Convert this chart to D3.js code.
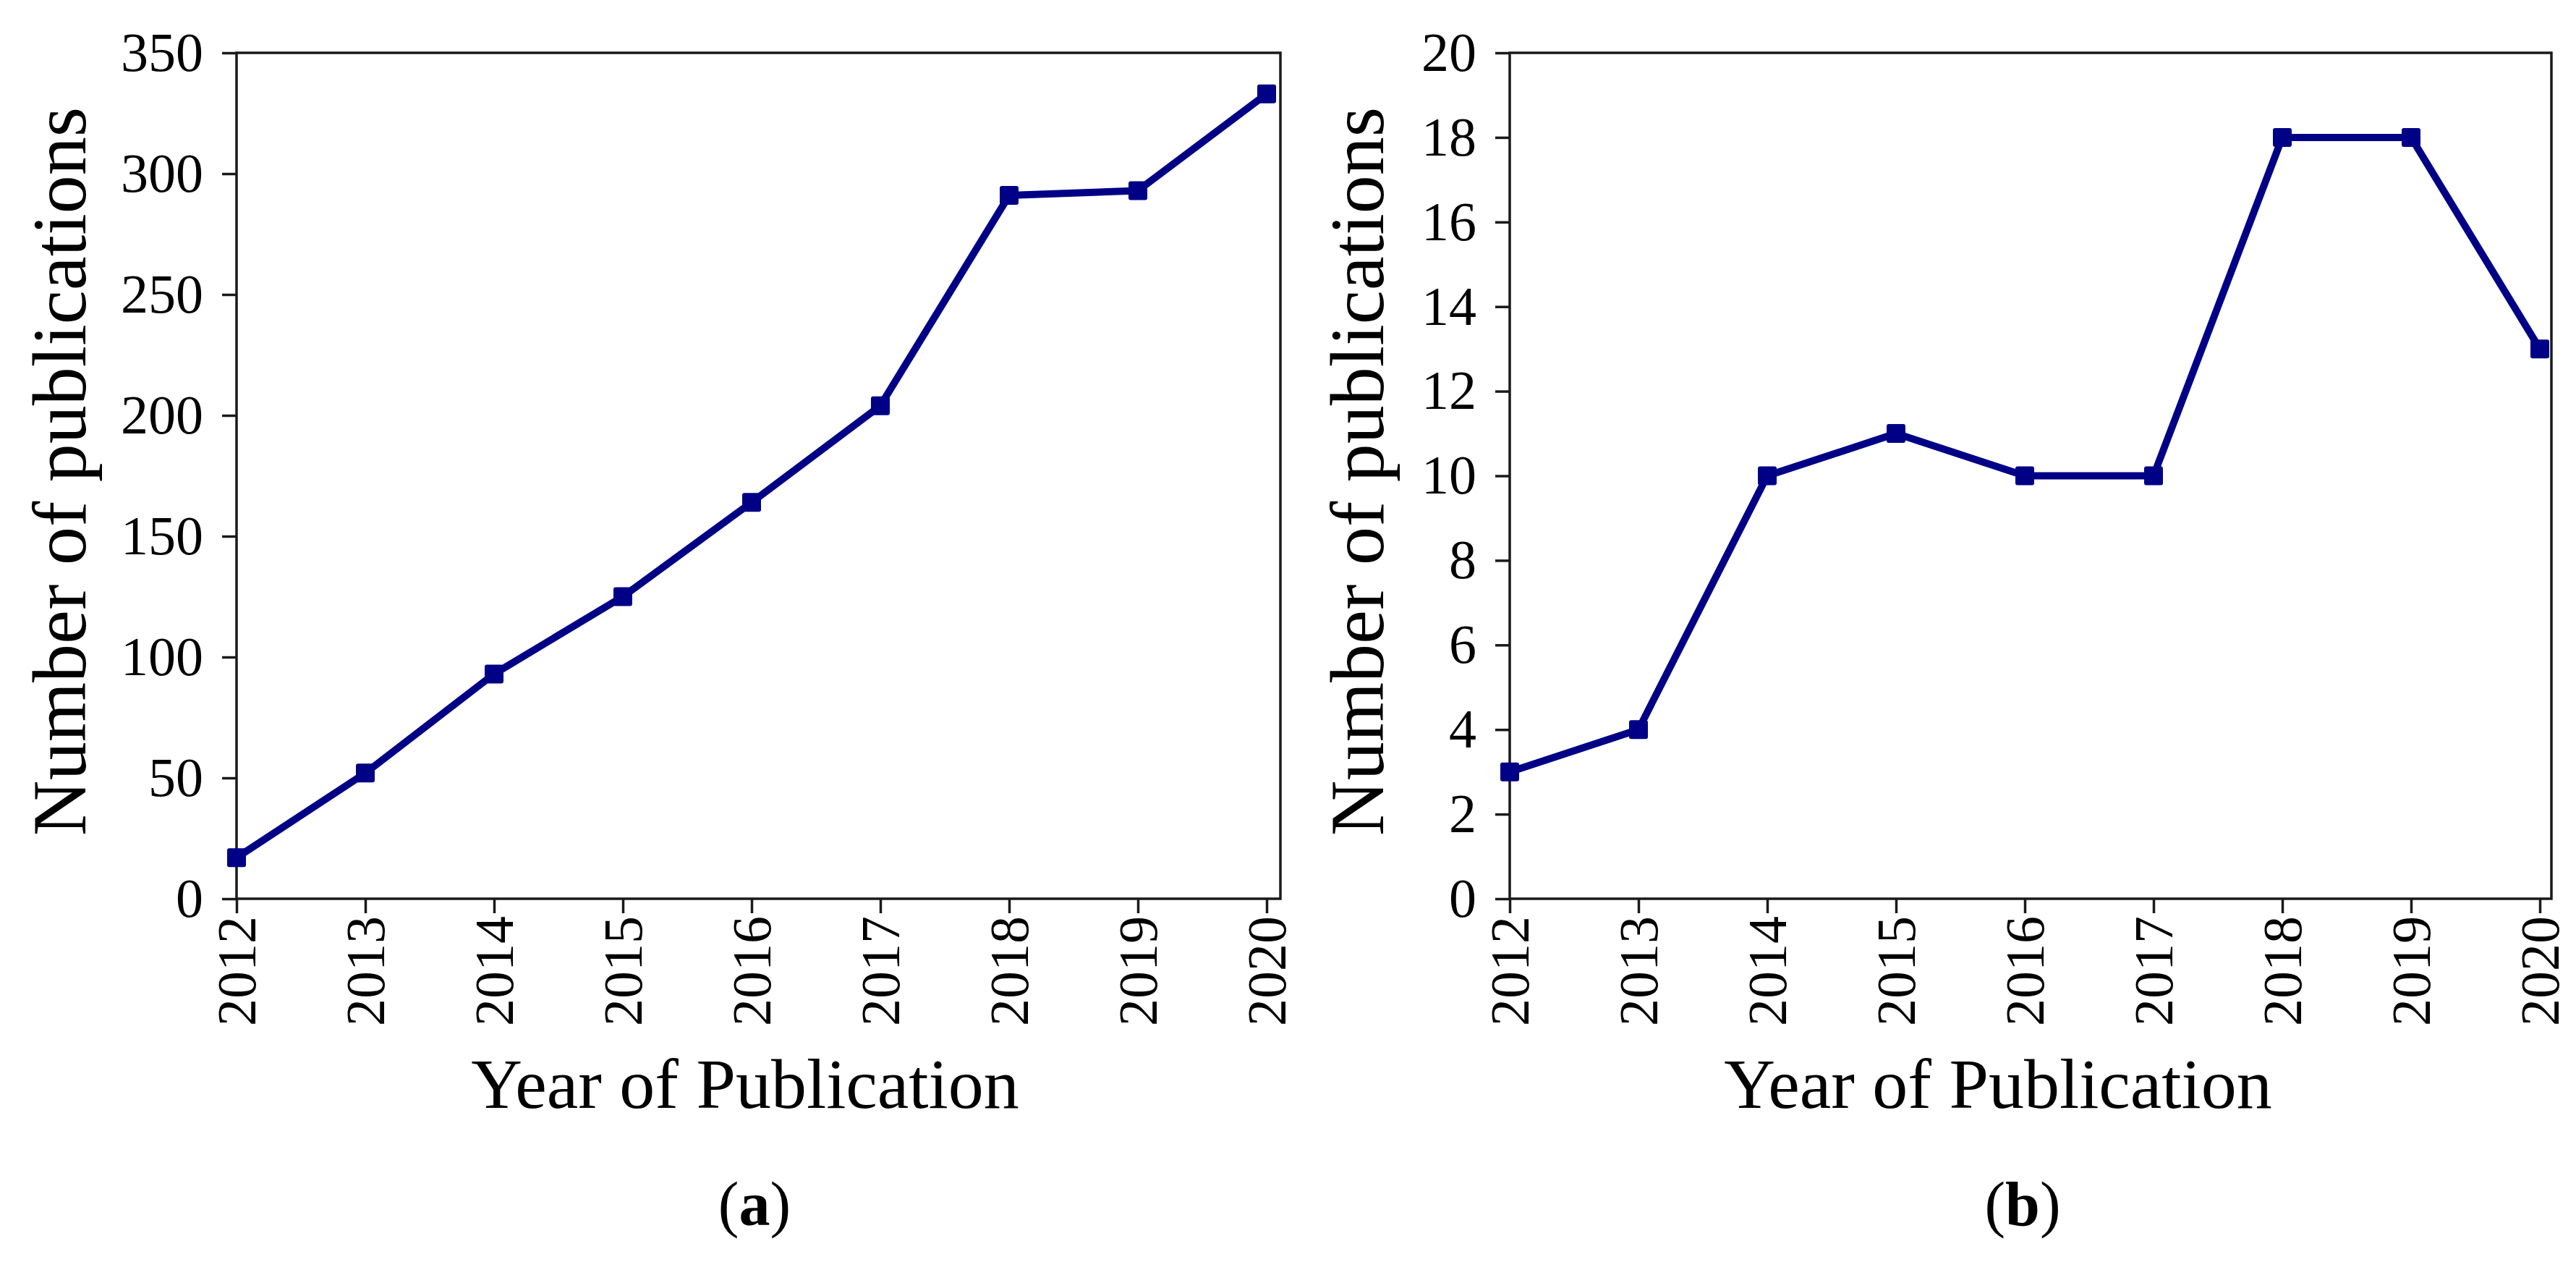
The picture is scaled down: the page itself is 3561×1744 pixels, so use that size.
<!DOCTYPE html>
<html>
<head>
<meta charset="utf-8">
<script src="https://cdn.jsdelivr.net/npm/d3@7"></script>
<style>
	body { margin: 0; background: #fff; }
	svg { display: block; }
	text { font-family: "Liberation Serif", "Times New Roman", serif; fill: #000; }
</style>
</head>
<body>
<div id="chart"></div>
<script>

const years = [2012, 2013, 2014, 2015, 2016, 2017, 2018, 2019, 2020];
const pubsA = [17, 52, 93, 125, 164, 204, 291, 293, 333];
const pubsB = [3, 4, 10, 11, 10, 10, 18, 18, 13];
const yTicksA = [0, 50, 100, 150, 200, 250, 300, 350];
const yTicksB = [0, 2, 4, 6, 8, 10, 12, 14, 16, 18, 20];
const yTitle = "Number of publications";
const xTitle = "Year of Publication";
const panelTags = ["a", "b"];

const W = 3561;
const H = 1744;
const lineColor = "#000086";

const svg = d3.select("#chart")
	.append("svg")
	.attr("width", W)
	.attr("height", H);

svg.append("rect")
	.attr("width", W)
	.attr("height", H)
	.attr("fill", "#fff");

function drawPanel(cfg, values, yTicks, tag){

	const top = 73, bottom = 1242;
	const step = 178;

	const x = d3.scaleLinear()
		.domain([years[0], years[years.length - 1]])
		.range([cfg.left, cfg.left + step * (years.length - 1)]);

	const y = d3.scaleLinear()
		.domain([0, yTicks[yTicks.length - 1]])
		.range([bottom, top]);

	const g = svg.append("g");

	// frame
	g.append("rect")
		.attr("x", cfg.left)
		.attr("y", top)
		.attr("width", cfg.right - cfg.left)
		.attr("height", bottom - top)
		.attr("fill", "none")
		.attr("stroke", "#1a1a1a")
		.attr("stroke-width", 3.5);

	const yAxis = g.append("g")
		.attr("transform", `translate(${cfg.left},0)`)
		.call(d3.axisLeft(y)
			.tickValues(yTicks)
			.tickSize(20)
			.tickSizeOuter(0)
			.tickPadding(26));

	yAxis.select(".domain").remove();
	yAxis.selectAll(".tick line").attr("stroke", "#1a1a1a").attr("stroke-width", 3.5);
	yAxis.selectAll(".tick text")
		.attr("font-size", 76)
		.attr("font-family", "Liberation Serif");

	const xAxis = g.append("g")
		.attr("transform", `translate(0,${bottom})`)
		.call(d3.axisBottom(x)
			.tickValues(years)
			.tickFormat(d3.format("d"))
			.tickSize(20)
			.tickSizeOuter(0));

	xAxis.select(".domain").remove();
	xAxis.selectAll(".tick line").attr("stroke", "#1a1a1a").attr("stroke-width", 3.5);
	xAxis.selectAll(".tick text")
		.attr("font-size", 76)
		.attr("font-family", "Liberation Serif")
		.attr("text-anchor", "end")
		.attr("transform", "rotate(-90)")
		.attr("x", -24)
		.attr("y", 0)
		.attr("dy", "0.34em");

	// line + markers
	const line = d3.line()
		.x((d, i) => x(years[i]))
		.y(d => y(d));

	g.append("path")
		.datum(values)
		.attr("d", line)
		.attr("fill", "none")
		.attr("stroke", lineColor)
		.attr("stroke-width", 10)
		.attr("stroke-linejoin", "round");

	g.selectAll(".marker")
		.data(values)
		.enter()
		.append("rect")
		.attr("class", "marker")
		.attr("x", (d, i) => x(years[i]) - 13)
		.attr("y", d => y(d) - 13)
		.attr("width", 26)
		.attr("height", 26)
		.attr("rx", 3)
		.attr("fill", lineColor);

	// titles
	g.append("text")
		.attr("transform", `translate(${cfg.yTitleX},${(top + bottom) / 2 - 6}) rotate(-90)`)
		.attr("text-anchor", "middle")
		.attr("font-size", 106)
		.text(yTitle);

	g.append("text")
		.attr("x", cfg.xTitleX)
		.attr("y", 1531)
		.attr("text-anchor", "middle")
		.attr("font-size", 98)
		.text(xTitle);

	const tagText = g.append("text")
		.attr("x", cfg.tagX)
		.attr("y", 1693)
		.attr("text-anchor", "middle")
		.attr("font-size", 86);
	tagText.append("tspan").text("(");
	tagText.append("tspan").attr("font-weight", "bold").text(tag);
	tagText.append("tspan").text(")");
}

drawPanel({left: 327, right: 1770, yTitleX: 118, xTitleX: 1030, tagX: 1043}, pubsA, yTicksA, panelTags[0]);
drawPanel({left: 2087, right: 3527, yTitleX: 1912, xTitleX: 2762, tagX: 2796}, pubsB, yTicksB, panelTags[1]);

</script>
</body>
</html>
